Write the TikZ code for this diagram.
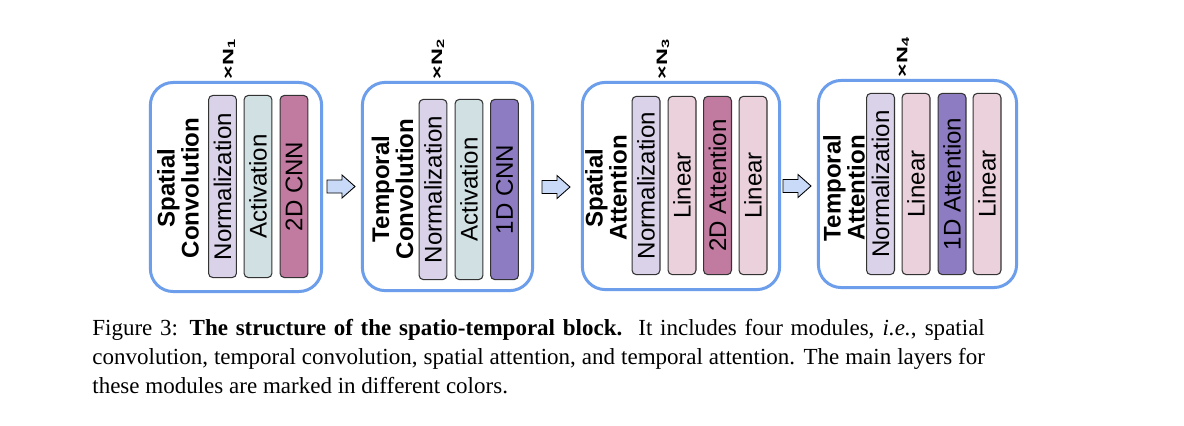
\documentclass[tikz,border=0pt]{standalone}
\usepackage{fontspec}
\setmainfont{Liberation Serif}
\setsansfont{Liberation Sans}
\usepackage{graphicx}

\definecolor{boxblue}{HTML}{6D9EEB}
\definecolor{arrowfill}{HTML}{C9DAF8}
\definecolor{normfill}{HTML}{D9D2E9}
\definecolor{actfill}{HTML}{D0E0E3}
\definecolor{linfill}{HTML}{EAD1DC}
\definecolor{magentafill}{HTML}{C27BA0}
\definecolor{purplefill}{HTML}{8E7CC3}
\definecolor{barline}{HTML}{333333}

\tikzset{
  module/.style={draw=boxblue, line width=1.7pt, rounded corners=13pt,
    fill=white, inner sep=0pt},
  layer/.style={draw=barline, line width=0.6pt, rounded corners=2.5pt,
    rotate=90, minimum height=15.9pt, inner sep=0pt,
    font=\sffamily\fontsize{13.7}{14}\selectfont},
  modname/.style={rotate=90, align=center, inner sep=0pt,
    font=\sffamily\bfseries\fontsize{13.7}{11}\selectfont},
  repeatlabel/.style={rotate=90, inner sep=0pt,
    font=\sffamily\bfseries\fontsize{8.6}{9}\selectfont},
  flowshape/.style={draw=black, line width=0.5pt, fill=arrowfill,
    line join=miter},
}

\newcommand{\reps}[1]{\scalebox{1.55}[1]{×N\textsubscript{#1}}}
% block arrow centred on a named coordinate (units: px)
\newcommand{\blockarrow}[1]{%
  \draw[flowshape, shift={(#1)}]
    (-14,-6.5) -- (1,-6.5) -- (1,-11.5) -- (14,0) -- (1,11.5) -- (1,6.5) -- (-14,6.5) -- cycle;}

\begin{document}
\begin{tikzpicture}[x=0.02cm, y=-0.02cm]
  \useasboundingbox (0,0) rectangle (1184,426);
  \fill[white] (0,0) rectangle (1184,426);

  % spatial convolution module
  \node[module, minimum width=97.5pt, minimum height=119pt] (m1) at (236,187) {};
  \node[modname] (t1) at (178,188) {Spatial\\Convolution};
  \node[layer, fill=normfill, minimum width=103.7pt] (m1a) at (222.5,186.5) {Normalization};
  \node[layer, fill=actfill, minimum width=103.7pt] (m1b) at (258,186.5) {Activation};
  \node[layer, fill=magentafill, minimum width=103.7pt] (m1c) at (294,186.5) {2D CNN};
  \node[repeatlabel] (r1) at (229,59) {\reps{1}};

  % temporal convolution module
  \node[module, minimum width=96.9pt, minimum height=118.5pt] (m2) at (447.5,186.5) {};
  \node[modname] (t2) at (392.5,189) {Temporal\\Convolution};
  \node[layer, fill=normfill, minimum width=102.6pt] (m2a) at (433,189.5) {Normalization};
  \node[layer, fill=actfill, minimum width=102.6pt] (m2b) at (469,189.5) {Activation};
  \node[layer, fill=purplefill, minimum width=102.6pt] (m2c) at (504.5,189.5) {1D CNN};
  \node[repeatlabel] (r2) at (438,59) {\reps{2}};

  % spatial attention module
  \node[module, minimum width=112.3pt, minimum height=117.9pt] (m3) at (681,186) {};
  \node[modname] (t3) at (606,188) {Spatial\\Attention};
  \node[layer, fill=normfill, minimum width=101.5pt] (m3a) at (646,185.5) {Normalization};
  \node[layer, fill=linfill, minimum width=101.5pt] (m3b) at (682,185.5) {Linear};
  \node[layer, fill=magentafill, minimum width=101.5pt] (m3c) at (717.5,185.5) {2D Attention};
  \node[layer, fill=linfill, minimum width=101.5pt] (m3d) at (753,185.5) {Linear};
  \node[repeatlabel] (r3) at (663,59) {\reps{3}};

  % temporal attention module
  \node[module, minimum width=112.8pt, minimum height=117.9pt] (m4) at (917.5,184) {};
  \node[modname] (t4) at (844,188) {Temporal\\Attention};
  \node[layer, fill=normfill, minimum width=103.2pt] (m4a) at (880.5,184) {Normalization};
  \node[layer, fill=linfill, minimum width=103.2pt] (m4b) at (916,184) {Linear};
  \node[layer, fill=purplefill, minimum width=103.2pt] (m4c) at (952,184) {1D Attention};
  \node[layer, fill=linfill, minimum width=103.2pt] (m4d) at (987,184) {Linear};
  \node[repeatlabel] (r4) at (903,57) {\reps{4}};

  % block arrows between modules
  \coordinate (a1) at (341,186.5);
  \coordinate (a2) at (556,187);
  \coordinate (a3) at (797,186);
  \blockarrow{a1}
  \blockarrow{a2}
  \blockarrow{a3}

  % caption
  \node[anchor=base west, text width=508pt, align=justify, inner sep=0pt,
        font=\fontsize{13.1}{16.7}\selectfont] (cap) at (92,335)
    {Figure 3: \textbf{The structure of the spatio-temporal block.}\hspace{0.7em}It includes four modules, \textit{i.e.}, spatial\linebreak
     convolution, temporal convolution, spatial attention, and temporal attention. The main layers for\linebreak
     these modules are marked in different colors.};
\end{tikzpicture}
\end{document}
